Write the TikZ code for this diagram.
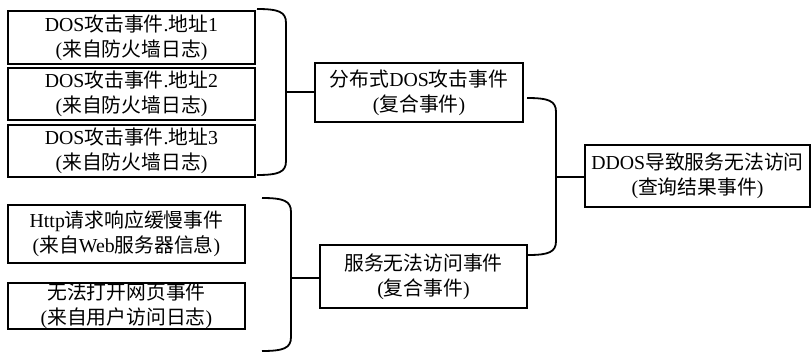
\documentclass[tikz,border=0pt]{standalone}
\usepackage{fontspec}
\setmainfont{Liberation Serif}
\newfontfamily\cjkfont{Noto Sans CJK SC}
\newcommand\zh[1]{{\cjkfont #1}}
\begin{document}
\begin{tikzpicture}[x=1pt,y=-1pt,
  box/.style={draw, line width=1.2pt, align=center, inner sep=0pt,
    font=\fontsize{19.8}{25}\selectfont},
  brace/.style={line width=1.8pt},
  link/.style={line width=1.8pt}]
\useasboundingbox (0,0) rectangle (811,353);
% left column, group 1
\node[box, minimum width=247pt, minimum height=53pt] (a1) at (131.5,37.5)
  {DOS\zh{攻击事件}.\zh{地址}1\\(\zh{来自防火墙日志})};
\node[box, minimum width=247pt, minimum height=52pt] (a2) at (131.5,94)
  {DOS\zh{攻击事件}.\zh{地址}2\\(\zh{来自防火墙日志})};
\node[box, minimum width=247pt, minimum height=52pt] (a3) at (131.5,151)
  {DOS\zh{攻击事件}.\zh{地址}3\\(\zh{来自防火墙日志})};
% left column, group 2
\node[box, minimum width=237pt, minimum height=58pt] (h1) at (126.5,234)
  {Http\zh{请求响应缓慢事件}\\(\zh{来自}Web\zh{服务器信息})};
\node[box, minimum width=237pt, minimum height=46pt] (h2) at (126.5,306)
  {\zh{无法打开网页事件}\\(\zh{来自用户访问日志})};
% middle column
\node[box, minimum width=208pt, minimum height=59pt] (d1) at (419,92.5)
  {\zh{分布式}DOS\zh{攻击事件}\\(\zh{复合事件})};
\node[box, minimum width=207pt, minimum height=63pt] (s1) at (423.5,276.5)
  {\zh{服务无法访问事件}\\(\zh{复合事件})};
% result
\node[box, minimum width=225pt, minimum height=62pt] (r1) at (697.5,176)
  {DDOS\zh{导致服务无法访问}\\(\zh{查询结果事件})};
% brackets
\coordinate (b1m) at (286,92);
\coordinate (b2m) at (291,278);
\coordinate (b3m) at (556,177);
\draw[brace] (257,9) .. controls (279,9) and (286,12) .. (286,23) -- (286,161)
  .. controls (286,172) and (279,175) .. (257,175);
\draw[brace] (262,198) .. controls (284,198) and (291,201) .. (291,212) -- (291,337)
  .. controls (291,348) and (284,351) .. (262,351);
\draw[brace] (527,98) .. controls (549,98) and (556,101) .. (556,112) -- (556,241)
  .. controls (556,252) and (549,255) .. (528,255);
% connectors
\draw[link] (b1m) -- (b1m -| d1.west);
\draw[link] (b2m) -- (b2m -| s1.west);
\draw[link] (b3m) -- (b3m -| r1.west);
\end{tikzpicture}
\end{document}
